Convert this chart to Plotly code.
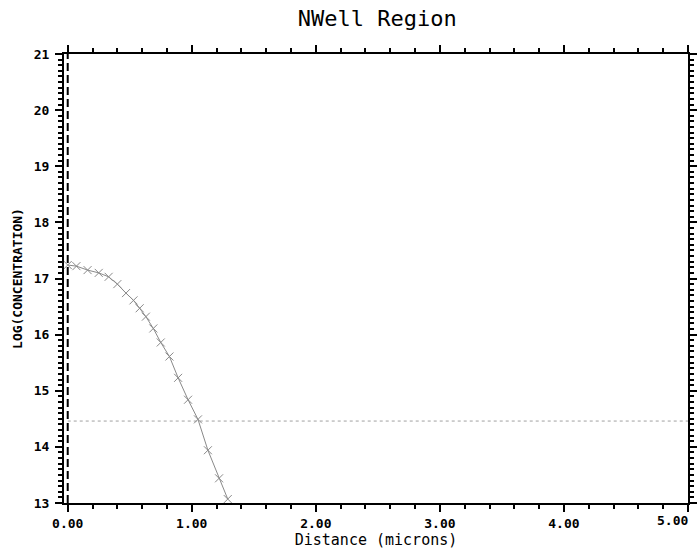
import plotly.graph_objects as go

# Net doping profile of the N-well (log10 of concentration vs depth)
depth_um = [0.00, 0.07, 0.16, 0.25, 0.33, 0.40, 0.47, 0.53, 0.58, 0.63, 0.69,
            0.75, 0.82, 0.89, 0.97, 1.05, 1.13, 1.22, 1.29]
log_conc = [17.24, 17.22, 17.15, 17.10, 17.03, 16.90, 16.74, 16.61, 16.47, 16.32, 16.11,
            15.86, 15.61, 15.23, 14.84, 14.49, 13.94, 13.44, 13.07]

# Background (substrate) level and surface reference
background_x = [0.0, 5.0]
background_y = [14.46, 14.46]
surface_x = [0.0, 0.0]
surface_y = [13.0, 21.0]

x_ticks = [0, 1, 2, 3, 4, 5]
x_tick_text = ["0.00", "1.00", "2.00", "3.00", "4.00", "5.00"]
y_ticks = [13, 14, 15, 16, 17, 18, 19, 20, 21]

mono = "DejaVu Sans Mono"
tick_font = dict(family=mono, size=13, color="black", weight="bold")

fig = go.Figure()

fig.add_trace(go.Scatter(
    x=background_x, y=background_y, mode="lines",
    line=dict(color="#a0a0a0", width=1, dash="dot"),
    hoverinfo="skip", showlegend=False))

fig.add_trace(go.Scatter(
    x=surface_x, y=surface_y, mode="lines",
    line=dict(color="black", width=2, dash="8px,4px"),
    hoverinfo="skip", showlegend=False))

fig.add_trace(go.Scatter(
    x=depth_um, y=log_conc, mode="lines+markers",
    line=dict(color="#8a8a8a", width=1),
    marker=dict(symbol="x-thin", size=8, line=dict(color="#8a8a8a", width=1)),
    showlegend=False))

axis_common = dict(
    showline=True, linecolor="black", linewidth=2, mirror="ticks",
    ticks="outside", tickcolor="black", tickwidth=2, ticklen=7,
    showgrid=False, zeroline=False, tickfont=tick_font,
)

# The last x label sits inside the frame, right-aligned on its tick
fig.update_xaxes(
    range=[-0.03, 5.0], tickvals=x_ticks,
    ticktext=x_tick_text[:-1] + [""],
    minor=dict(dtick=0.2, ticks="outside", ticklen=4, tickwidth=1.5,
               tickcolor="black", showgrid=False),
    title=dict(text="Distance (microns)",
               font=dict(family=mono, size=15, color="black"), standoff=3),
    **axis_common)
fig.add_annotation(
    x=x_ticks[-1], xref="x", y=0, yref="paper", yanchor="top", xanchor="right",
    text=x_tick_text[-1], showarrow=False, font=tick_font, yshift=-8, xshift=2)

fig.update_yaxes(
    range=[13, 21], tickvals=y_ticks, ticklabelstandoff=3,
    minor=dict(dtick=0.1, ticks="outside", ticklen=4, tickwidth=1.5,
               tickcolor="black", showgrid=False),
    title=dict(text="LOG(CONCENTRATION)",
               font=dict(family=mono, size=13, color="black", weight="bold"),
               standoff=8),
    **axis_common)

fig.update_layout(
    width=700, height=549,
    margin=dict(l=64, r=3, t=54, b=46),
    paper_bgcolor="white", plot_bgcolor="white",
    title=dict(text="NWell Region", x=0.539, xanchor="center", y=0.966,
               yanchor="middle",
               font=dict(family=mono, size=22, color="black")),
)

fig.write_html("out.html")
